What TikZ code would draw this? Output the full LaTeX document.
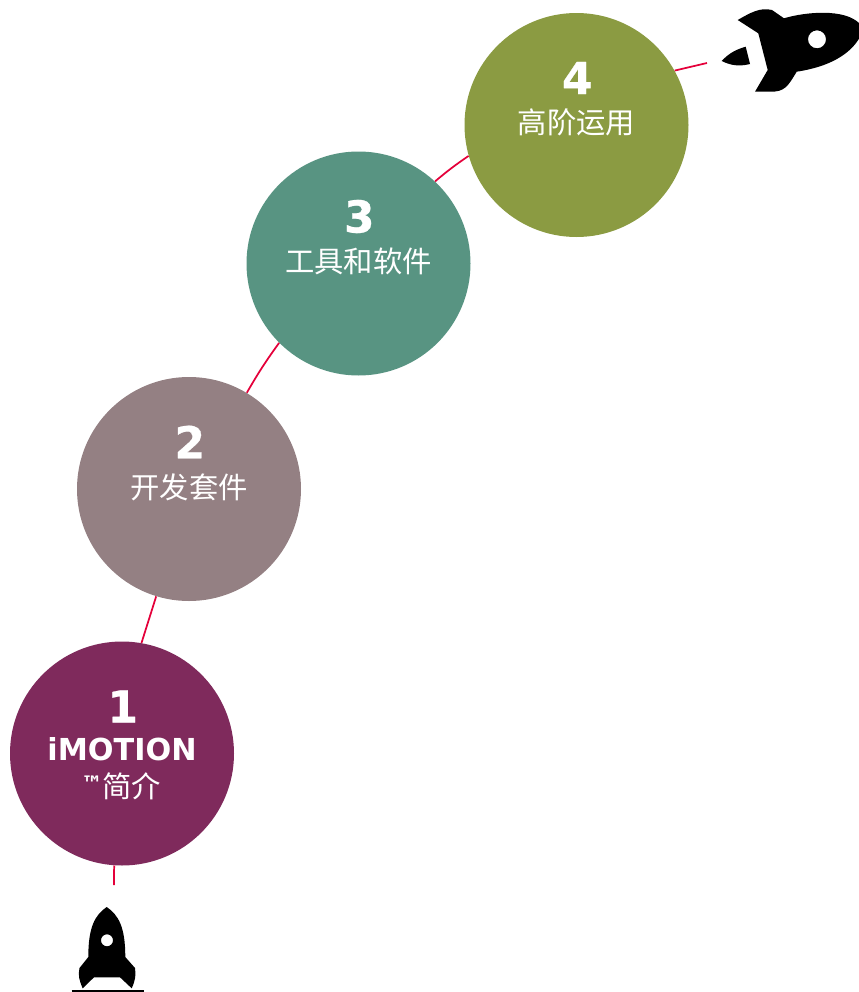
\documentclass[tikz,border=0pt]{standalone}
\usepackage{fontspec}
\setmainfont{DejaVu Sans}
\newfontfamily\cjk{Noto Sans CJK SC}
\newfontfamily\heavy[FakeBold=0.6]{DejaVu Sans Bold}
\definecolor{stageone}{HTML}{7F2A5C}
\definecolor{stagetwo}{HTML}{948083}
\definecolor{stagethree}{HTML}{589482}
\definecolor{stagefour}{HTML}{8B9B42}
\definecolor{flightline}{HTML}{E4003A}
\tikzset{
	stage/.style={circle, minimum size=168pt, inner sep=0pt},
	numlabel/.style={text=white, font=\fontsize{33}{33}\heavy, inner sep=0pt},
	titlelabel/.style={text=white, font=\fontsize{22.7}{24}\selectfont\bfseries, inner sep=0pt},
	cjklabel/.style={text=white, font=\fontsize{22}{24}\cjk, inner sep=0pt},
	flight/.style={flightline, line width=1.3pt}
}
\newcommand{\stagedisc}[5] % name, x in px, y in px, colour, digit
{
	\node[stage, fill=#4] (#1) at (#2,#3) {};
	\node[numlabel] (#1num) at (#2+0.8,#3-47) {#5};
}
\begin{document}
\begin{tikzpicture}[x=0.75pt, y=-0.75pt]
	\useasboundingbox (0,0) rectangle (858,992);
	% scale: 1 unit = 1 px of the sheet
	\stagedisc{one}{122}{753.5}{stageone}{1}
	\stagedisc{two}{189}{489}{stagetwo}{2}
	\stagedisc{three}{358.5}{263.5}{stagethree}{3}
	\stagedisc{four}{576.5}{125}{stagefour}{4}

	\node[titlelabel] (onetitle) at (122,749) {iMOTION};
	\node[anchor=west, text=white, font=\fontsize{16}{16}\selectfont\bfseries, inner sep=0pt] (onetm) at (81,784) {™};
	\node[cjklabel, anchor=west] (onetext) at (102,786) {简介};
	\node[cjklabel] (twotext) at (189,487) {开发套件};
	\node[cjklabel] (threetext) at (358.5,261) {工具和软件};
	\node[cjklabel] (fourtext) at (576.5,122) {高阶运用};

	% flight path
	\coordinate (launch) at (113.9,885);
	\coordinate (orbit) at (707,63);
	\draw[flight] (one.266) -- (launch);
	\draw[flight] (one.80) -- (two.253);
	\draw[flight] (two.59) to[bend left=3] (three.225);
	\draw[flight] (three.47) to[bend left=3] (four.196);
	\draw[flight] (four.29) -- (orbit);

	% rocket on the ground
	\fill[even odd rule] (106.7,907) .. controls (95,915) and (88.3,927) .. (88.3,957)
		-- (79.5,968) .. controls (78,975) and (79,980) .. (82.7,988.3)
		-- (94,977.3) -- (120,977.3) -- (131.7,988.3)
		.. controls (135.5,980) and (136,975) .. (135,968)
		-- (125.3,957) .. controls (125.3,927) and (118.5,915) .. (106.7,907)
		(113,940.3) arc[start angle=0, end angle=360, radius=6];
	\draw[line width=1.1pt] (71.7,991) -- (144.3,991);

	% rocket in orbit
	\fill[even odd rule] (737.7,20) .. controls (750,13) and (760,7) .. (772,10)
		-- (784,18.3) .. controls (805,12) and (845,8) .. (860,24)
		-- (860,37) .. controls (850,55) and (828,67) .. (796.7,71.7)
		.. controls (788,86) and (785,92) .. (770,91.7)
		-- (755,91.7) -- (767.7,70) -- (758.3,33.3) -- (737.7,20)
		(826,39.3) arc[start angle=0, end angle=360, radius=9];
	\fill (721.7,61) .. controls (730,52) and (738,49) .. (745.7,46.7)
		-- (750,64) .. controls (738,67) and (730,65) .. (721.7,61) -- cycle;
\end{tikzpicture}
\end{document}
